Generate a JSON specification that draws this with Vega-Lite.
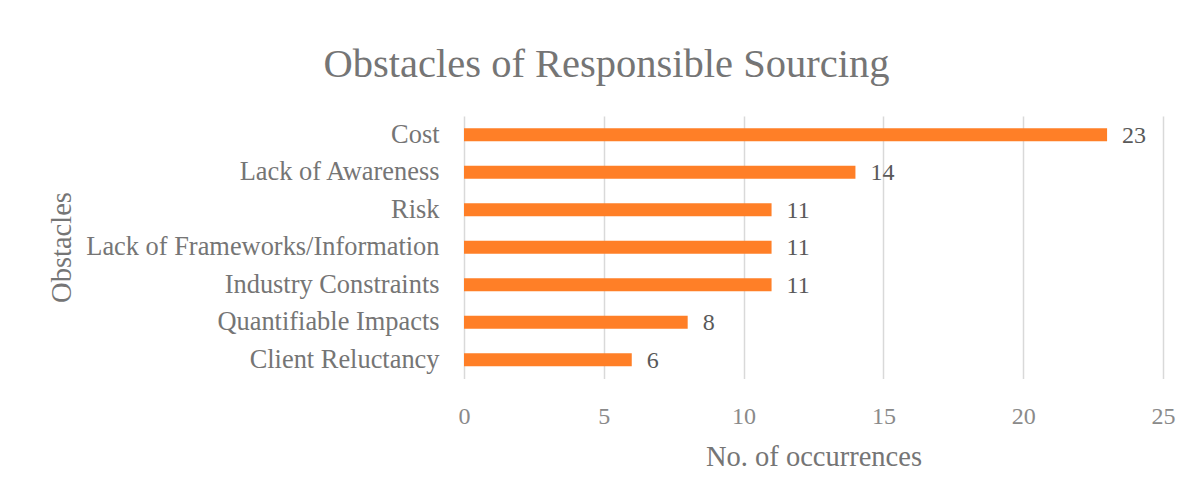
{
  "$schema": "https://vega.github.io/schema/vega-lite/v6.json",
  "autosize": {"type": "none"},
  "width": 699,
  "height": 262.5,
  "padding": {"left": 464, "top": 116, "right": 32, "bottom": 118},
  "background": "white",
  "title": {
    "text": "Obstacles of Responsible Sourcing",
    "font": "Liberation Serif",
    "fontSize": 40.5,
    "fontWeight": "normal",
    "color": "#757575",
    "anchor": "middle",
    "frame": "group",
    "dx": -207,
    "offset": 31
  },
  "data": {
    "values": [
      {"obstacle": "Cost", "count": 23},
      {"obstacle": "Lack of Awareness", "count": 14},
      {"obstacle": "Risk", "count": 11},
      {"obstacle": "Lack of Frameworks/Information", "count": 11},
      {"obstacle": "Industry Constraints", "count": 11},
      {"obstacle": "Quantifiable Impacts", "count": 8},
      {"obstacle": "Client Reluctancy ", "count": 6}
    ]
  },
  "encoding": {
    "y": {
      "field": "obstacle",
      "type": "nominal",
      "sort": null,
      "scale": {"paddingInner": 0.65, "paddingOuter": 0.325},
      "axis": {
        "title": "Obstacles",
        "titleFont": "Liberation Serif",
        "titleFontSize": 28.5,
        "titleFontWeight": "normal",
        "titleColor": "#757575",
        "titleAngle": -90,
        "titleX": -403,
        "titleY": 131,
        "titleAlign": "center",
        "titleBaseline": "middle",
        "labelFont": "Liberation Serif",
        "labelFontSize": 26.4,
        "labelColor": "#757575",
        "labelPadding": 25,
        "labelLimit": 500,
        "ticks": false,
        "domain": false,
        "grid": false
      }
    }
  },
  "layer": [
    {
      "mark": {"type": "bar", "color": "#FF7F27", "size": 13},
      "encoding": {
        "x": {
          "field": "count",
          "type": "quantitative",
          "scale": {"domain": [0, 25], "nice": false},
          "axis": {
            "values": [0, 5, 10, 15, 20, 25],
            "title": "No. of occurrences",
            "titleFont": "Liberation Serif",
            "titleFontSize": 28.5,
            "titleFontWeight": "normal",
            "titleColor": "#757575",
            "titleY": 77.5,
            "titleBaseline": "middle",
            "labelFont": "Liberation Serif",
            "labelFontSize": 24,
            "labelColor": "#8a8a8a",
            "labelPadding": 26,
            "labelBaseline": "top",
            "labelFlush": false,
            "ticks": false,
            "domain": false,
            "grid": true,
            "gridColor": "#d9d9d9",
            "gridWidth": 1.5
          }
        }
      }
    },
    {
      "mark": {"type": "text", "align": "left", "baseline": "middle", "dx": 15, "dy": 1, "font": "Liberation Serif", "fontSize": 24, "color": "#595959"},
      "encoding": {
        "x": {"field": "count", "type": "quantitative"},
        "text": {"field": "count", "type": "quantitative"}
      }
    }
  ],
  "config": {"view": {"stroke": null}}
}
